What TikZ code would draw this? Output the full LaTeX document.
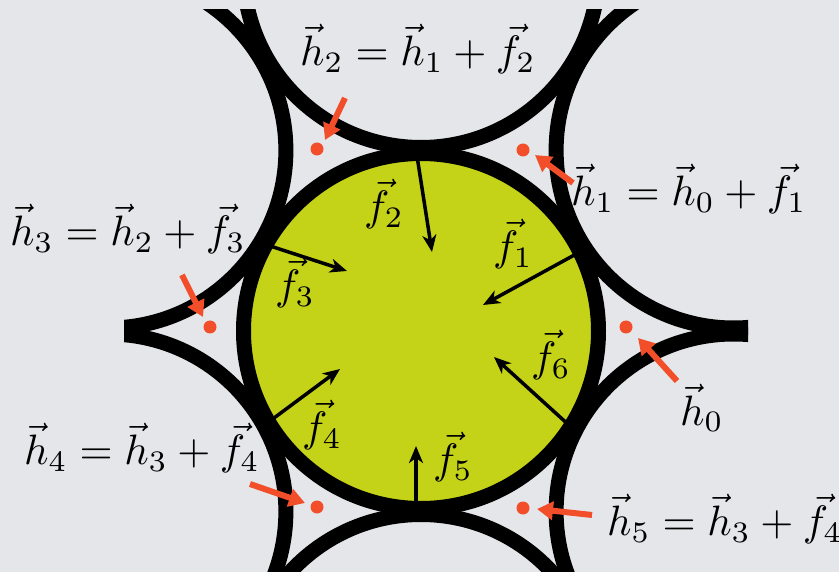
\documentclass[tikz,border=0pt]{standalone}
\usetikzlibrary{arrows.meta}
\definecolor{bg}{HTML}{E4E6E9}
\definecolor{cell}{HTML}{C5D318}
\definecolor{hred}{HTML}{F24E2A}
\begin{document}
\begin{tikzpicture}[x=1pt,y=-1pt,
  ring/.style={line width=15pt, draw=black},
  force/.style={line width=3.5pt, -{Stealth[length=17pt,width=14pt,inset=5pt]}},
  pointer/.style={line width=6pt, draw=hred, -{Triangle[length=16pt,width=18pt]}},
  hdot/.style={circle, fill=hred, inner sep=0pt, minimum size=13pt},
  lab/.style={scale=4.25, inner sep=0pt}]
\fill[bg] (0,0) rectangle (839,572);
\useasboundingbox (0,0) rectangle (839,572);
% cells
\coordinate (C) at (421,331);
\coordinate (T) at (421,-30);
\coordinate (UL) at (108.4,150.5);
\coordinate (LL) at (108.4,511.5);
\coordinate (UR) at (733.6,150.5);
\coordinate (LR) at (733.6,511.5);
\coordinate (B) at (421,692);
\begin{scope}
  \clip (124,10) rectangle (748,572);
  \fill[cell] (C) circle[radius=177.5];
  \foreach \n in {C,T,UL,LL,UR,LR,B} \draw[ring] (\n) circle[radius=177.5];
\end{scope}
% force arrows
\coordinate (f1s) at (578,253); \coordinate (f1e) at (483,305);
\coordinate (f2s) at (417,156); \coordinate (f2e) at (432,252);
\coordinate (f3s) at (264,244); \coordinate (f3e) at (347,271);
\coordinate (f4s) at (270,421); \coordinate (f4e) at (340,369);
\coordinate (f5s) at (416,510); \coordinate (f5e) at (416,446);
\coordinate (f6s) at (571,427); \coordinate (f6e) at (494,357);
\foreach \i in {1,...,6} \draw[force] (f\i s) -- (f\i e);
\node[lab] (lf1) at (513,244) {$\vec f_1$};
\node[lab] (lf2) at (384,204) {$\vec f_2$};
\node[lab] (lf3) at (295,283) {$\vec f_3$};
\node[lab] (lf4) at (322,425) {$\vec f_4$};
\node[lab] (lf5) at (453,457) {$\vec f_5$};
\node[lab] (lf6) at (551,355) {$\vec f_6$};
% positions
\node[hdot] (d0) at (626,327) {};
\node[hdot] (d1) at (523,150) {};
\node[hdot] (d2) at (317,149) {};
\node[hdot] (d3) at (210,327) {};
\node[hdot] (d4) at (317,507) {};
\node[hdot] (d5) at (523,508) {};
\coordinate (p0s) at (677,381); \coordinate (p0e) at (638,338);
\coordinate (p1s) at (573,183); \coordinate (p1e) at (535,155);
\coordinate (p2s) at (345,98);  \coordinate (p2e) at (325,140);
\coordinate (p3s) at (182,275); \coordinate (p3e) at (203,317);
\coordinate (p4s) at (250,484); \coordinate (p4e) at (305,503);
\coordinate (p5s) at (592,515); \coordinate (p5e) at (537,509);
\foreach \i in {0,...,5} \draw[pointer] (p\i s) -- (p\i e);
\node[lab] (lh2) at (418,49) {$\vec h_2 = \vec h_1 + \vec f_2$};
\node[lab] (lh1) at (689,189) {$\vec h_1 = \vec h_0 + \vec f_1$};
\node[lab] (lh3) at (128,229) {$\vec h_3 = \vec h_2 + \vec f_3$};
\node[lab] (lh0) at (702,408) {$\vec h_0$};
\node[lab] (lh4) at (142,448) {$\vec h_4 = \vec h_3 + \vec f_4$};
\node[lab] (lh5) at (725,519) {$\vec h_5 = \vec h_3 + \vec f_4$};
\end{tikzpicture}
\end{document}
